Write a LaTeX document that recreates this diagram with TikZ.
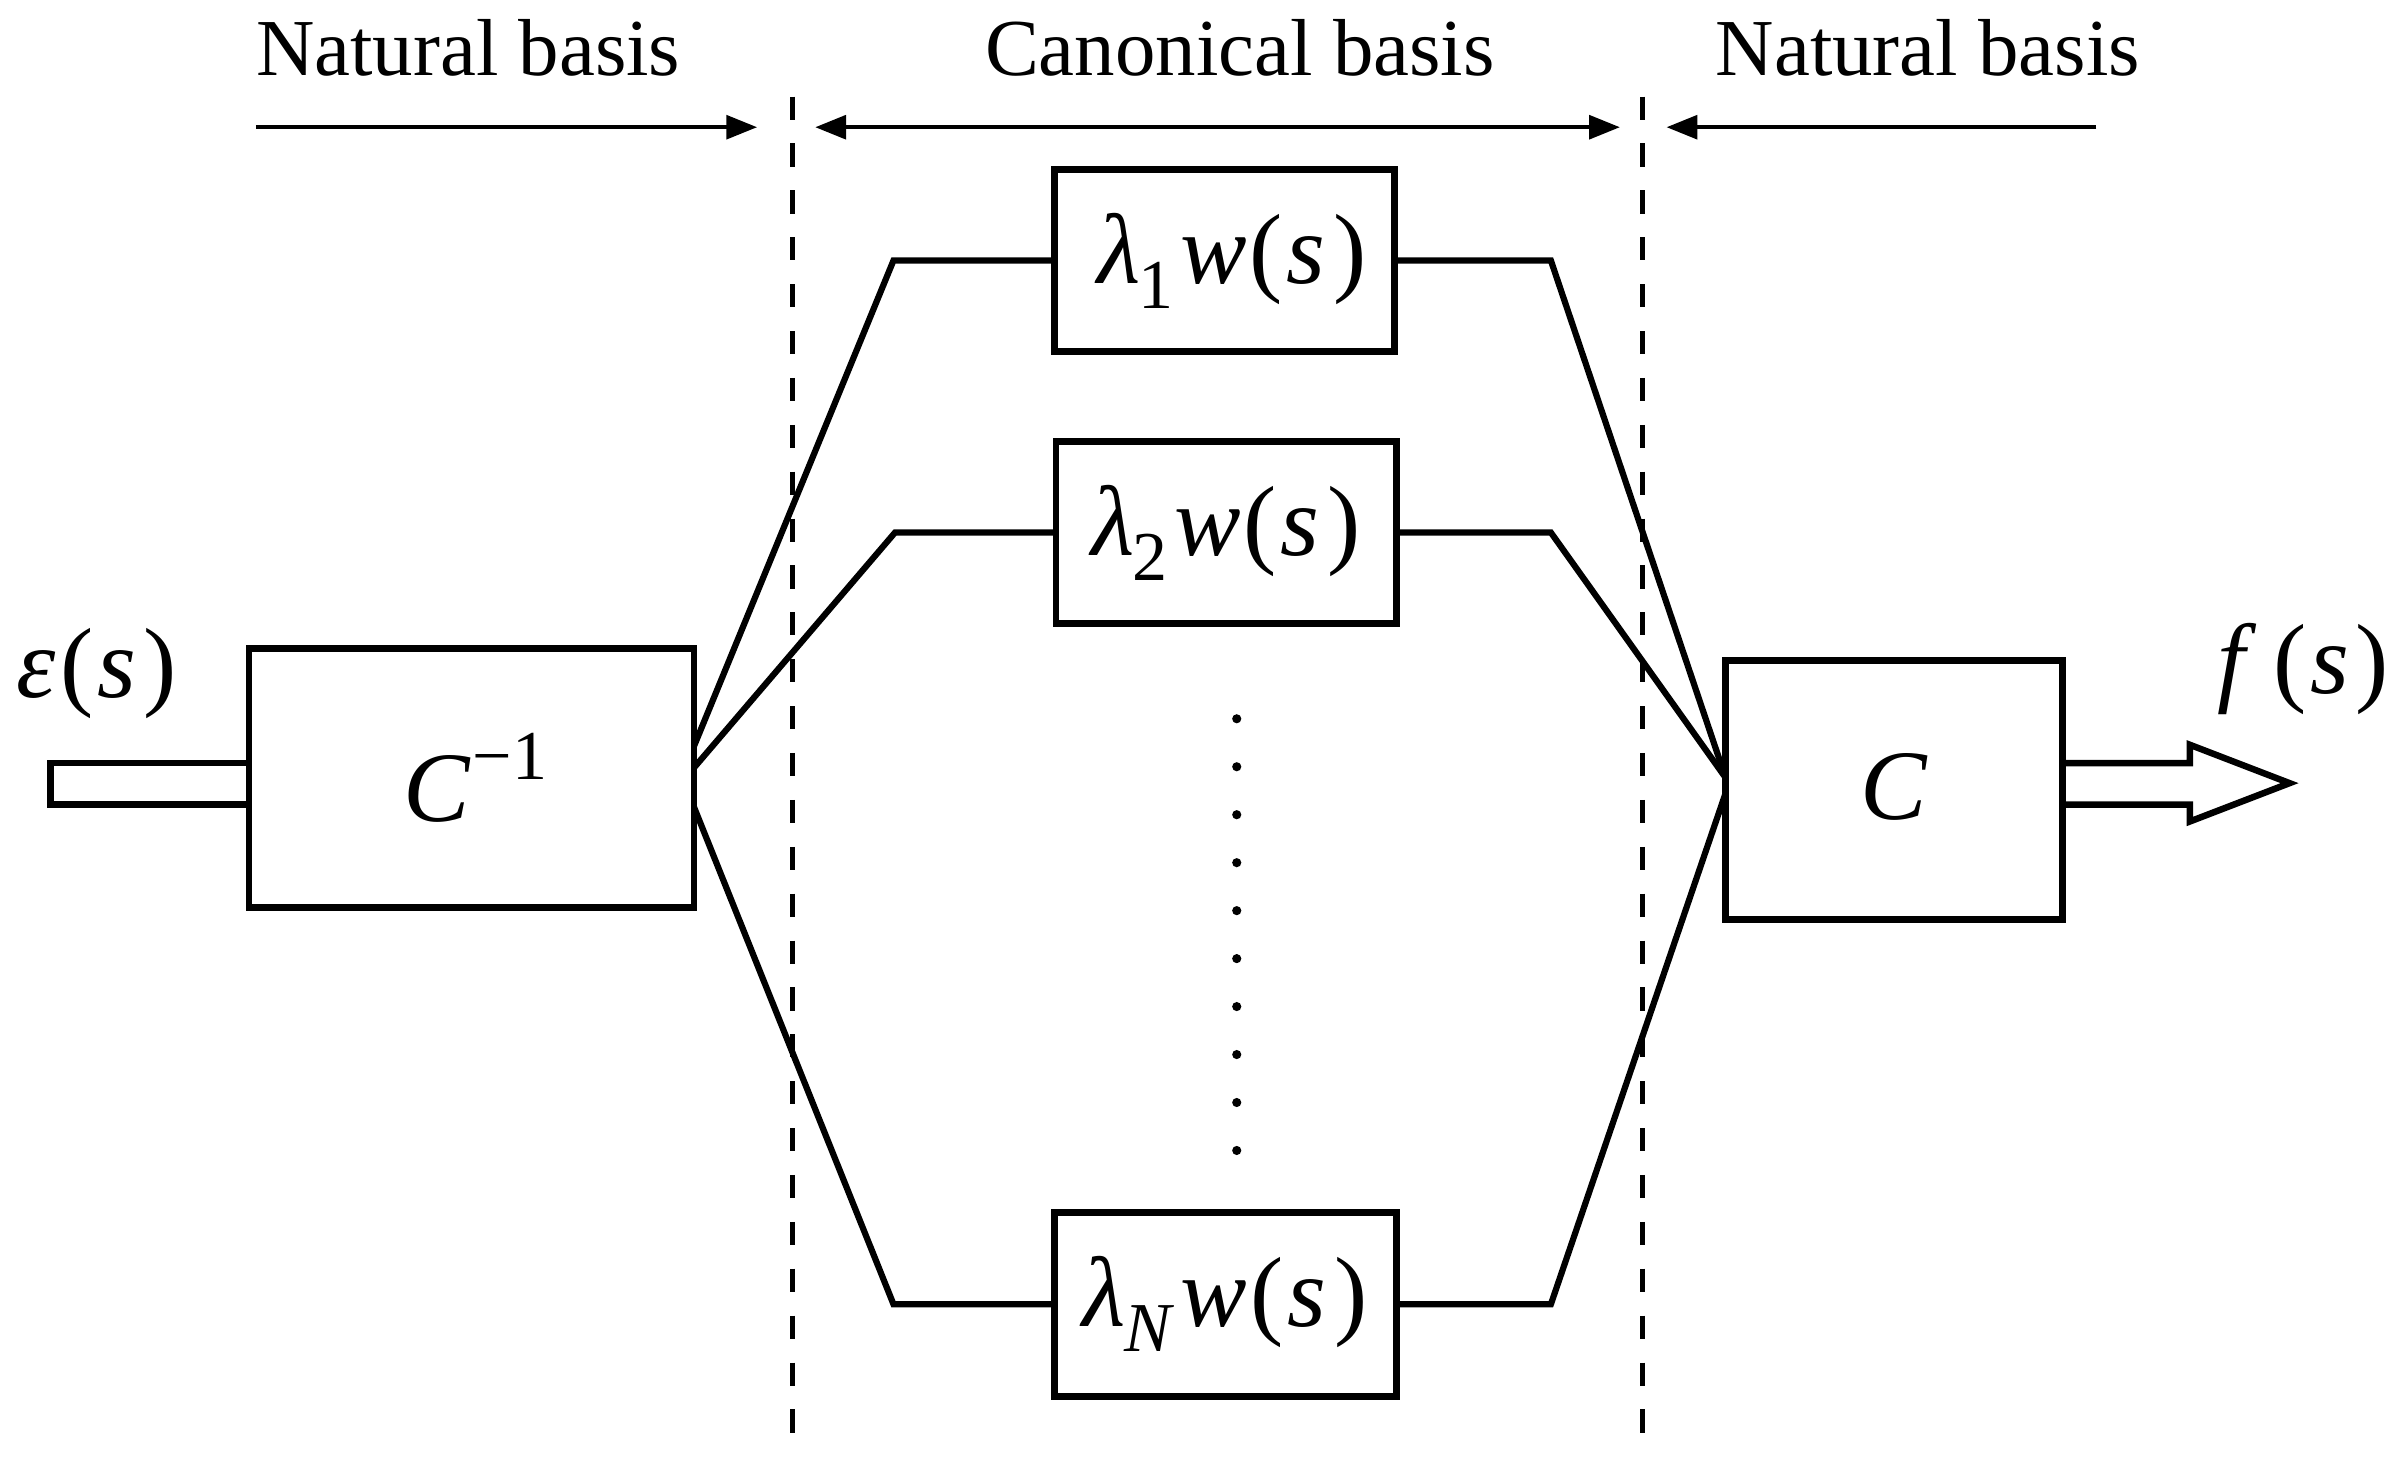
\documentclass[tikz,border=0pt]{standalone}
\usepackage{fontspec}
\setmainfont{Liberation Serif}
\usetikzlibrary{calc,arrows.meta}
\newcommand\mathsz{\fontsize{18.5}{22}\selectfont}
\newcommand\subsz{\fontsize{13}{14}\selectfont}
\newcommand\lamw[1]{{\mathsz\textit{λ}\kern-0.3pt\raisebox{-4.6pt}{\subsz #1}\kern1.2pt\textit{w}\kern0.5pt(\kern0.8pt\textit{s}\kern1.5pt)}}
\begin{document}
\begin{tikzpicture}[x=0.01cm,y=-0.01cm,
  blk/.style={draw,line width=1.25pt,inner sep=0pt,outer sep=0pt,font=\mathsz},
  conn/.style={line width=1.15pt,line join=miter},
  divider/.style={line width=0.9pt,dash pattern=on 4.3pt off 4.4pt},
  spanarrow/.style={line width=0.7pt,-{Triangle[length=5.7pt,width=4.4pt]}},
  spanboth/.style={line width=0.7pt,{Triangle[length=5.7pt,width=4.4pt]}-{Triangle[length=5.7pt,width=4.4pt]}},
  lbl/.style={font=\fontsize{15}{18}\selectfont,anchor=base,inner sep=0pt},
  sig/.style={font=\mathsz,anchor=base,inner sep=0pt},
  hollow/.style={line width=1.2pt,line join=miter},
  dotmark/.style={fill=black}]
\useasboundingbox (0,0) rectangle (1568,955.9);

% top labels
\node[lbl] (t1) at (305.5,49.5) {Natural basis};
\node[lbl] (t2) at (809,49.5) {Canonical basis};
\node[lbl] (t3) at (1258,49.5) {Natural basis};

% dividers
\coordinate (d1top) at (517,63);
\coordinate (d1bot) at (517,947);
\coordinate (d2top) at (1072,63);
\coordinate (d2bot) at (1072,947);
\draw[divider] (d1top) -- (d1bot);
\draw[divider] (d2top) -- (d2bot);

% span arrows
\coordinate (a1s) at (167,83);
\coordinate (a1e) at (494,83);
\coordinate (a2s) at (532,83);
\coordinate (a2e) at (1057,83);
\coordinate (a3s) at (1368,83);
\coordinate (a3e) at (1087.5,83);
\draw[spanarrow] (a1s) -- (a1e);
\draw[spanboth] (a2s) -- (a2e);
\draw[spanarrow] (a3s) -- (a3e);

% blocks
\node[blk,minimum width=0.01cm*290.4,minimum height=0.01cm*169] (cinv) at (307.6,507.5)
  {\hspace*{0.05cm}\textit{C}\kern0.3pt\raisebox{7.8pt}{\fontsize{13}{14}\selectfont −1}};
\node[blk,minimum width=0.01cm*220,minimum height=0.01cm*169] (cbox) at (1236,515.5)
  {\raisebox{1.5pt}{\textit{C}}};
\node[blk,minimum width=0.01cm*222,minimum height=0.01cm*119] (l1) at (799,170)
  {\hspace*{0.1cm}\lamw{1}};
\node[blk,minimum width=0.01cm*222,minimum height=0.01cm*119] (l2) at (800,347.5)
  {\lamw{2}};
\node[blk,minimum width=0.01cm*223,minimum height=0.01cm*120] (ln) at (799.5,851)
  {\lamw{\textit{N}}};

% input / output signals
\node[sig] (eps) at (63,455) {\textit{ε}\kern0.8pt(\kern0.8pt\textit{s}\kern1.2pt)};
\node[sig] (fs) at (1503,452.6) {\textit{f}\kern3pt(\kern0.8pt\textit{s}\kern1.2pt)};

% hollow input arrow
\coordinate (in1) at (33,498);
\coordinate (in2) at (33,525);
\draw[hollow] (cinv.west |- in1) -- (in1) -- (in2) -- (cinv.west |- in2);

% hollow output arrow
\coordinate (ob) at (1429,498);
\coordinate (obb) at (1429,525);
\coordinate (oh1) at (1429,486);
\coordinate (oh2) at (1429,536);
\coordinate (otip) at (1494,511);
\draw[hollow] (cbox.east |- ob) -- (ob) -- (oh1) -- (otip) -- (oh2) -- (obb) -- (cbox.east |- obb);

% fan-out connectors
\draw[conn] ($(cinv.east)+(0,-20.5)$) -- ($(l1.west)+(-105,0)$) -- (l1.west);
\draw[conn] ($(cinv.east)+(0,-6.5)$) -- ($(l2.west)+(-105,0)$) -- (l2.west);
\draw[conn] ($(cinv.east)+(0,19)$) -- ($(ln.west)+(-105,0)$) -- (ln.west);

% fan-in connectors
\draw[conn] (l1.east) -- ($(l1.east)+(102,0)$) -- ($(cbox.west)+(0,-8)$);
\draw[conn] (l2.east) -- ($(l2.east)+(101,0)$) -- ($(cbox.west)+(0,-8)$);
\draw[conn] (ln.east) -- ($(ln.east)+(101,0)$) -- ($(cbox.west)+(0,2)$);

% vertical ellipsis
\foreach \k in {0,...,9}
  \fill[dotmark] (807,469+31.3*\k) circle[radius=0.85pt];
\end{tikzpicture}
\end{document}
